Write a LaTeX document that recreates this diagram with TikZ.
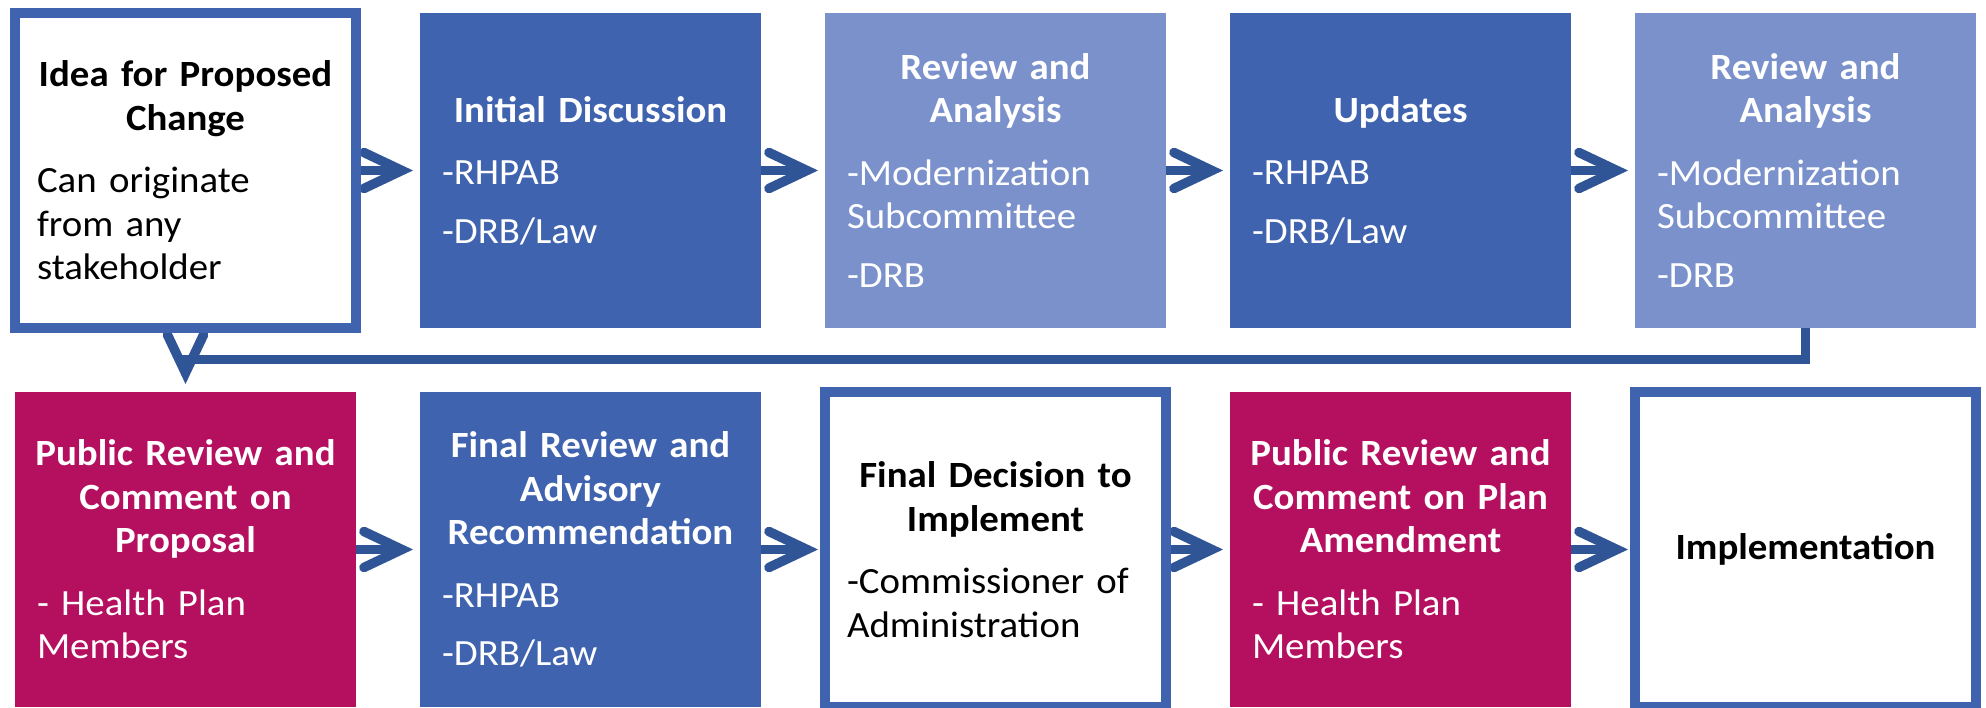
\documentclass[tikz,border=0pt]{standalone}
\usepackage{fontspec}
\setmainfont{Carlito}[FakeStretch=1.05]
\usetikzlibrary{arrows.meta}
\setlength{\parindent}{0pt}
\setlength{\parskip}{0pt}

\definecolor{dkblue}{HTML}{3F63AE}
\definecolor{ltblue}{HTML}{7A91CB}
\definecolor{berry}{HTML}{B50F5F}
\definecolor{linkblue}{HTML}{2F5597}

\pgfdeclarelayer{bg}
\pgfsetlayers{bg,main}

% centred bold heading line inside a step box
\newcommand{\boxtitle}[1]{\makebox[\hsize][c]{\bfseries #1}\par}
\newcommand{\titlegap}{\vspace{19pt}}
\newcommand{\itemgap}{\par\vspace{15pt}}

\begin{document}
\begin{tikzpicture}[
  x=1pt, y=1pt,
  stepbox/.style={minimum width=341pt, minimum height=315pt,
    text width=297pt, inner xsep=22pt, inner ysep=0pt, outer sep=0pt,
    align=left, anchor=center,
    font=\fontsize{37}{43.5}\selectfont},
  darkstep/.style={stepbox, fill=dkblue, text=white},
  lightstep/.style={stepbox, fill=ltblue, text=white},
  publicstep/.style={stepbox, fill=berry, text=white},
  keystep/.style={stepbox, fill=white, draw=dkblue, line width=10pt, text=black},
  conn/.style={draw=linkblue, line width=9.5pt,
    -{Straight Barb[length=38pt, width=36pt, line cap=round, line join=miter]}},
]
\useasboundingbox (0,0) rectangle (1986,707);

% upper row
\node[keystep]   (t1) at (185.5,536.5) {\boxtitle{Idea for Proposed}\boxtitle{Change}\titlegap
  Can originate\\from any\\stakeholder};
\node[darkstep]  (t2) at (590.5,536.5) {\boxtitle{Initial Discussion}\titlegap
  -RHPAB\itemgap -DRB/Law};
\node[lightstep] (t3) at (995.5,536.5) {\boxtitle{Review and}\boxtitle{Analysis}\titlegap
  -Modernization\\Subcommittee\itemgap -DRB};
\node[darkstep]  (t4) at (1400.5,536.5) {\boxtitle{Updates}\titlegap
  -RHPAB\itemgap -DRB/Law};
\node[lightstep] (t5) at (1805.5,536.5) {\boxtitle{Review and}\boxtitle{Analysis}\titlegap
  -Modernization\\Subcommittee\itemgap -DRB};

% lower row
\node[publicstep] (b1) at (185.5,157.5) {\boxtitle{Public Review and}\boxtitle{Comment on}\boxtitle{Proposal}\titlegap
  - Health Plan\\Members};
\node[darkstep]   (b2) at (590.5,157.5) {\boxtitle{Final Review and}\boxtitle{Advisory}\boxtitle{Recommendation}\titlegap
  -RHPAB\itemgap -DRB/Law};
\node[keystep]    (b3) at (995.5,157.5) {\boxtitle{Final Decision to}\boxtitle{Implement}\titlegap
  -Commissioner of\\Administration};
\node[publicstep] (b4) at (1400.5,157.5) {\boxtitle{Public Review and}\boxtitle{Comment on Plan}\boxtitle{Amendment}\titlegap
  - Health Plan\\Members};
\node[keystep]    (b5) at (1805.5,157.5) {\boxtitle{Implementation}};

% connectors
\begin{pgfonlayer}{bg}
  \draw[conn, shorten >=7pt] (t1.east) -- (t2.west);
  \draw[conn, shorten >=7pt] (t2.east) -- (t3.west);
  \draw[conn, shorten >=7pt] (t3.east) -- (t4.west);
  \draw[conn, shorten >=7pt] (t4.east) -- (t5.west);
  \draw[conn, shorten >=8pt] (t5.south) -- ++(0,-31.5) -| (b1.north);
  \draw[conn, shorten >=7pt] (b1.east) -- (b2.west);
  \draw[conn, shorten >=7pt] (b2.east) -- (b3.west);
  \draw[conn, shorten >=7pt] (b3.east) -- (b4.west);
  \draw[conn, shorten >=7pt] (b4.east) -- (b5.west);
\end{pgfonlayer}
\end{tikzpicture}
\end{document}
